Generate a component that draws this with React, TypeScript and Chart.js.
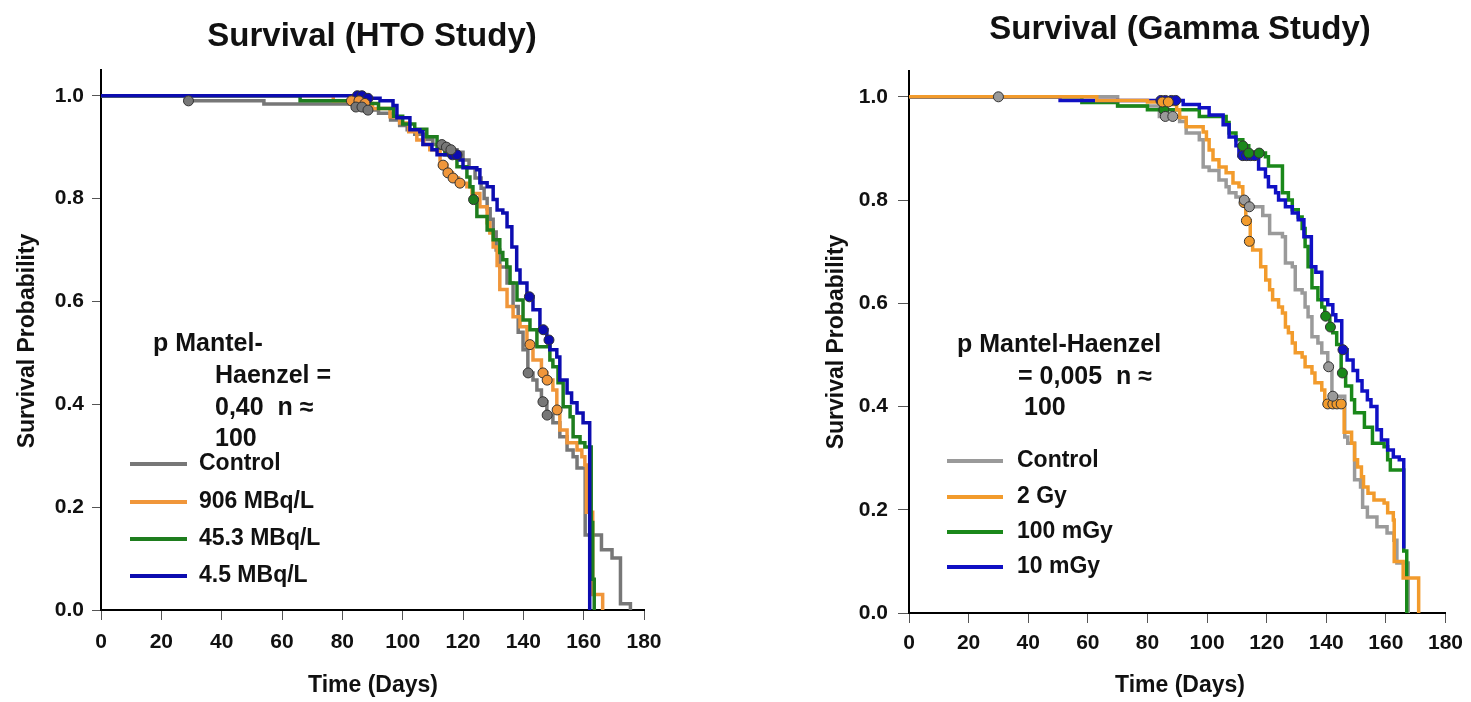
import React, { useEffect, useRef } from "react";
import { Chart, registerables } from "chart.js";
Chart.register(...registerables);

// ---------------- axis ticks ----------------
const xTickValues = [0, 20, 40, 60, 80, 100, 120, 140, 160, 180];
const yTickValues = [0, 0.2, 0.4, 0.6, 0.8, 1.0];
const yTickLabels = ["0.0", "0.2", "0.4", "0.6", "0.8", "1.0"];

// ---------------- HTO study (left) ----------------
const htoLabels = ["Control", "906 MBq/L", "45.3 MBq/L", "4.5 MBq/L"];

const htoControlT = [0, 28, 54, 84, 88, 92, 96, 99, 101.5, 104, 107, 110, 114, 115.5, 118, 120, 122, 124, 126, 127, 128, 129, 130, 131, 132.2, 134.6, 136.6, 138.3, 139.9, 141.5, 143.2, 144.5, 146, 147.8, 149.8, 152.1, 154.5, 156.5, 157.8, 160.5, 165.9, 169.4, 172.2, 175.5];
const htoControlS = [1, 0.99, 0.984, 0.978, 0.972, 0.966, 0.953, 0.942, 0.934, 0.925, 0.915, 0.905, 0.9, 0.895, 0.89, 0.875, 0.86, 0.84, 0.82, 0.8, 0.78, 0.76, 0.735, 0.7, 0.667, 0.636, 0.59, 0.54, 0.506, 0.461, 0.447, 0.428, 0.405, 0.379, 0.364, 0.337, 0.311, 0.298, 0.276, 0.146, 0.117, 0.101, 0.012, 0];
const htoControlCensT = [29, 84.5, 86.5, 88.5, 113, 114.5, 116, 141.6, 146.5, 147.9];
const htoControlCensS = [0.99, 0.978, 0.978, 0.972, 0.905, 0.9, 0.895, 0.461, 0.405, 0.379];

const htoHighT = [0, 77, 86, 90, 95.8, 99, 102, 104.7, 107, 109, 112.4, 114.7, 116.5, 118.5, 121.3, 123, 125.6, 128, 128.9, 130, 131.3, 132.2, 134.6, 136.6, 138.9, 141.2, 143.2, 146, 147.8, 149.8, 151.1, 152.1, 154.5, 157.8, 159.4, 160.4, 160.9, 163, 166.3];
const htoHighS = [1, 0.99, 0.985, 0.975, 0.959, 0.947, 0.93, 0.914, 0.905, 0.895, 0.865, 0.85, 0.84, 0.83, 0.823, 0.81, 0.784, 0.753, 0.733, 0.706, 0.67, 0.623, 0.59, 0.57, 0.551, 0.516, 0.486, 0.461, 0.447, 0.428, 0.389, 0.35, 0.325, 0.311, 0.298, 0.282, 0.19, 0.03, 0];
const htoHighCensT = [83, 85.5, 87.5, 113.4, 115, 116.7, 119, 142.2, 146.5, 147.9, 151.2];
const htoHighCensS = [0.99, 0.99, 0.985, 0.865, 0.85, 0.84, 0.83, 0.516, 0.461, 0.447, 0.389];

const htoMidT = [0, 66, 86, 92, 97, 100, 104, 108, 111.4, 114, 118, 121.3, 122.3, 123.3, 124.6, 128, 130, 132.2, 133.2, 134.5, 135.6, 137.9, 139.9, 142.2, 144.5, 148.8, 149.8, 151.5, 153.2, 155.5, 156.5, 158.8, 160.4, 162.5, 163, 163.5];
const htoMidS = [1, 0.99, 0.985, 0.975, 0.96, 0.945, 0.935, 0.92, 0.899, 0.885, 0.862, 0.842, 0.823, 0.798, 0.765, 0.739, 0.72, 0.695, 0.681, 0.667, 0.636, 0.603, 0.564, 0.545, 0.512, 0.486, 0.473, 0.442, 0.395, 0.376, 0.337, 0.325, 0.317, 0.17, 0.06, 0];
const htoMidCensT = [87, 123.5];
const htoMidCensS = [0.985, 0.798];

const htoLowT = [0, 88, 92.5, 96.8, 98.1, 102.4, 105.7, 106.7, 109.7, 111.4, 119, 120, 124.6, 125.6, 128, 130, 131.3, 133.2, 134.6, 136.2, 137.8, 138.9, 141.2, 143.2, 145.5, 147.8, 148.8, 151.1, 152.1, 154.5, 156, 157.8, 159.8, 162];
const htoLowS = [1, 0.995, 0.99, 0.981, 0.957, 0.934, 0.93, 0.905, 0.895, 0.885, 0.875, 0.86, 0.856, 0.831, 0.823, 0.798, 0.778, 0.772, 0.745, 0.706, 0.661, 0.636, 0.609, 0.584, 0.545, 0.525, 0.506, 0.492, 0.447, 0.422, 0.403, 0.383, 0.364, 0];
const htoLowCensT = [85, 86.5, 88.5, 116.5, 118, 142, 146.6, 148.5];
const htoLowCensS = [1, 1, 0.995, 0.885, 0.885, 0.609, 0.545, 0.525];

// ---------------- Gamma study (right) ----------------
const gamLabels = ["Control", "2 Gy", "100 mGy", "10 mGy"];

const gamControlT = [0, 70, 84, 90.8, 93, 97.4, 98.7, 100.7, 104, 106.4, 107.4, 109.7, 112.5, 114, 118.7, 121, 125.3, 126.3, 128.6, 129.6, 131.9, 132.9, 133.9, 135.2, 137.2, 138.5, 140.5, 141.9, 146.2, 147.2, 149.5, 151.5, 152.2, 153.8, 157, 160.4, 162.7, 163.7, 167.5];
const gamControlS = [1, 0.982, 0.962, 0.952, 0.93, 0.917, 0.864, 0.857, 0.839, 0.826, 0.814, 0.806, 0.8, 0.787, 0.77, 0.735, 0.729, 0.678, 0.671, 0.626, 0.62, 0.593, 0.574, 0.535, 0.523, 0.504, 0.477, 0.42, 0.341, 0.329, 0.258, 0.244, 0.205, 0.186, 0.167, 0.155, 0.141, 0.097, 0];
const gamControlCensT = [30, 86, 88.5, 112.5, 114.2, 140.8, 142.2];
const gamControlCensS = [1, 0.962, 0.962, 0.8, 0.787, 0.477, 0.42];

const gam2GyT = [0, 63, 80, 88, 89.8, 90.8, 93, 98.7, 99.8, 100.7, 102, 104, 106.4, 108.7, 110.7, 112, 113, 114.5, 115.3, 118, 119.7, 121, 122, 124, 125.3, 126.3, 127.3, 128.6, 129.6, 131.9, 132.9, 135.2, 136.2, 138.5, 139.5, 146, 148.5, 149.5, 150.5, 151.8, 152.5, 154, 156, 159.4, 160.6, 162.5, 162.8, 165.8, 171];
const gam2GyS = [1, 0.993, 0.99, 0.985, 0.975, 0.96, 0.942, 0.932, 0.917, 0.897, 0.878, 0.864, 0.853, 0.833, 0.826, 0.795, 0.76, 0.72, 0.703, 0.671, 0.645, 0.626, 0.607, 0.593, 0.581, 0.554, 0.543, 0.523, 0.504, 0.496, 0.477, 0.465, 0.446, 0.432, 0.405, 0.35, 0.329, 0.297, 0.283, 0.264, 0.244, 0.232, 0.219, 0.213, 0.194, 0.18, 0.1, 0.068, 0];
const gam2GyCensT = [85, 87, 112.4, 113.2, 114.2, 140.5, 142.2, 143.6, 145];
const gam2GyCensS = [0.99, 0.99, 0.795, 0.76, 0.72, 0.405, 0.405, 0.405, 0.405];

const gam100T = [0, 58, 70, 80, 97.4, 106.4, 107.4, 109.7, 112, 114, 119.6, 120.6, 125.3, 127.3, 128.6, 130.6, 131.9, 132.9, 133.9, 135.2, 137.2, 138.5, 139.5, 141.2, 142.2, 143.5, 145, 146.5, 148.5, 149.5, 152.8, 155.5, 159.4, 160.6, 161.5, 166, 167];
const gam100S = [1, 0.989, 0.982, 0.975, 0.962, 0.95, 0.93, 0.917, 0.905, 0.891, 0.884, 0.866, 0.814, 0.8, 0.781, 0.767, 0.745, 0.71, 0.671, 0.63, 0.607, 0.593, 0.575, 0.554, 0.543, 0.52, 0.465, 0.44, 0.413, 0.388, 0.36, 0.329, 0.322, 0.297, 0.277, 0.12, 0];
const gam100CensT = [85.5, 112, 114, 117.5, 139.8, 141.4, 145.4];
const gam100CensS = [0.975, 0.905, 0.891, 0.891, 0.575, 0.554, 0.465];

const gam10T = [0, 50.7, 92, 97.4, 100.7, 105.4, 107.4, 109.7, 110.7, 117.3, 119.6, 120.6, 123, 124, 126.3, 128.6, 130.6, 132.5, 135, 136.5, 138.5, 140.5, 142.2, 143.2, 145.2, 147, 149, 150.5, 152, 153.8, 155, 157, 158.5, 160.6, 162.5, 164.5, 166];
const gam10S = [1, 0.993, 0.985, 0.979, 0.965, 0.946, 0.922, 0.905, 0.886, 0.86, 0.845, 0.826, 0.814, 0.8, 0.787, 0.775, 0.762, 0.729, 0.671, 0.66, 0.607, 0.597, 0.578, 0.566, 0.51, 0.49, 0.47, 0.45, 0.43, 0.413, 0.4, 0.355, 0.335, 0.316, 0.302, 0.297, 0.125];
const gam10CensT = [84.5, 86, 88, 89.5, 112, 113.3, 114.6, 116, 145.6];
const gam10CensS = [0.993, 0.993, 0.993, 0.993, 0.886, 0.886, 0.886, 0.886, 0.51];

// ---------------- styling / layout ----------------
const FONT = "'Liberation Sans', Arial, Helvetica, sans-serif";

type Series = {
  label: string; t: number[]; s: number[]; ct: number[]; cs: number[];
  color: string; order: number;
};

type Panel = {
  canvasLeft: number; canvasWidth: number;
  plotLeft: number; plotRight: number; plotTop: number; plotBottom: number;
  yTickLen: number; yTickPad: number; xTickPad: number;
  title: string; titleX: number; titleY: number;
  yTitleX: number; yTitleY: number; xTitleX: number; xTitleY: number;
  note: { text: string; x: number; y: number }[];
  legX1: number; legX2: number; legTextX: number; legY: number[];
  series: Series[];
};

const htoPanel: Panel = {
  canvasLeft: 0, canvasWidth: 736,
  plotLeft: 101, plotRight: 644, plotTop: 70, plotBottom: 610,
  yTickLen: 9, yTickPad: 8, xTickPad: 10,
  title: "Survival (HTO Study)", titleX: 372, titleY: 37,
  yTitleX: 28, yTitleY: 341, xTitleX: 373, xTitleY: 686,
  note: [
    { text: "p Mantel-", x: 153, y: 344 },
    { text: "Haenzel =", x: 215, y: 376 },
    { text: "0,40  n ≈", x: 215, y: 408 },
    { text: "100", x: 215, y: 439 },
  ],
  legX1: 130, legX2: 187, legTextX: 199, legY: [464, 502, 539, 576],
  series: [
    { label: htoLabels[0], t: htoControlT, s: htoControlS, ct: htoControlCensT, cs: htoControlCensS, color: "#777777", order: 4 },
    { label: htoLabels[1], t: htoHighT, s: htoHighS, ct: htoHighCensT, cs: htoHighCensS, color: "#f0963a", order: 3 },
    { label: htoLabels[2], t: htoMidT, s: htoMidS, ct: htoMidCensT, cs: htoMidCensS, color: "#1e7d1e", order: 2 },
    { label: htoLabels[3], t: htoLowT, s: htoLowS, ct: htoLowCensT, cs: htoLowCensS, color: "#0c0cb0", order: 1 },
  ],
};

const gamPanel: Panel = {
  canvasLeft: 736, canvasWidth: 735,
  plotLeft: 909, plotRight: 1453, plotTop: 71, plotBottom: 613,
  yTickLen: 11, yTickPad: 10, xTickPad: 8,
  title: "Survival (Gamma Study)", titleX: 1180, titleY: 30,
  yTitleX: 837, yTitleY: 342, xTitleX: 1180, xTitleY: 686,
  note: [
    { text: "p Mantel-Haenzel", x: 957, y: 345 },
    { text: "= 0,005  n ≈", x: 1018, y: 377 },
    { text: "100", x: 1024, y: 408 },
  ],
  legX1: 947, legX2: 1003, legTextX: 1017, legY: [461, 497, 532, 567],
  series: [
    { label: gamLabels[0], t: gamControlT, s: gamControlS, ct: gamControlCensT, cs: gamControlCensS, color: "#9a9a9a", order: 4 },
    { label: gamLabels[1], t: gam2GyT, s: gam2GyS, ct: gam2GyCensT, cs: gam2GyCensS, color: "#f29b2c", order: 1 },
    { label: gamLabels[2], t: gam100T, s: gam100S, ct: gam100CensT, cs: gam100CensS, color: "#1a881a", order: 3 },
    { label: gamLabels[3], t: gam10T, s: gam10S, ct: gam10CensT, cs: gam10CensS, color: "#1010c4", order: 2 },
  ],
};

const pts = (t: number[], s: number[]) => t.map((x, i) => ({ x, y: s[i] }));

function buildChart(canvas: HTMLCanvasElement, p: Panel): Chart {
  const ox = p.canvasLeft;
  const height = 702;
  const datasets: any[] = [];
  p.series.forEach((se) => {
    datasets.push({
      type: "line", label: se.label, data: pts(se.t, se.s),
      borderColor: se.color, borderWidth: 3.5, pointRadius: 0, stepped: true,
      fill: false, order: se.order, borderJoinStyle: "miter",
    });
  });
  p.series.forEach((se) => {
    datasets.push({
      type: "line", label: se.label + " censored", data: pts(se.ct, se.cs),
      showLine: false, pointRadius: 5, pointBackgroundColor: se.color,
      pointBorderColor: "#333", pointBorderWidth: 1, borderColor: se.color, order: 0,
    });
  });

  const textPlugin = {
    id: "panelText",
    afterDraw(chart: any) {
      const ctx = chart.ctx as CanvasRenderingContext2D;
      ctx.save();
      ctx.fillStyle = "#111";
      ctx.textBaseline = "middle";
      // title
      ctx.textAlign = "center";
      ctx.font = `bold 33px ${FONT}`;
      ctx.fillText(p.title, p.titleX - ox, p.titleY);
      // x title
      ctx.font = `bold 23px ${FONT}`;
      ctx.fillText("Time (Days)", p.xTitleX - ox, p.xTitleY);
      // y title
      ctx.save();
      ctx.translate(p.yTitleX - ox, p.yTitleY);
      ctx.rotate(-Math.PI / 2);
      ctx.fillText("Survival Probability", 0, 0);
      ctx.restore();
      // note
      ctx.textAlign = "left";
      ctx.font = `bold 25px ${FONT}`;
      p.note.forEach((n) => ctx.fillText(n.text, n.x - ox, n.y));
      // legend
      ctx.font = `bold 23px ${FONT}`;
      p.series.forEach((se, i) => {
        const y = p.legY[i];
        ctx.strokeStyle = se.color;
        ctx.lineWidth = 4;
        ctx.beginPath();
        ctx.moveTo(p.legX1 - ox, y);
        ctx.lineTo(p.legX2 - ox, y);
        ctx.stroke();
        ctx.fillStyle = "#111";
        ctx.fillText(se.label, p.legTextX - ox, y);
      });
      ctx.restore();
    },
  };

  return new Chart(canvas, {
    type: "line",
    data: { datasets },
    plugins: [textPlugin],
    options: {
      responsive: false,
      maintainAspectRatio: false,
      devicePixelRatio: 1,
      animation: false,
      events: [],
      layout: {
        autoPadding: false,
        padding: { left: 0, top: p.plotTop, right: p.canvasWidth - (p.plotRight - ox), bottom: 0 },
      },
      plugins: { legend: { display: false }, title: { display: false }, tooltip: { enabled: false } },
      scales: {
        x: {
          type: "linear", position: "bottom", min: 0, max: 180,
          afterBuildTicks: (s: any) => { s.ticks = xTickValues.map((v) => ({ value: v })); },
          afterFit: (s: any) => { s.height = height - p.plotBottom; },
          ticks: {
            color: "#111", padding: p.xTickPad, maxRotation: 0, autoSkip: false,
            font: { family: FONT, size: 21, weight: "bold" },
            callback: (v: any) => String(v),
          },
          grid: { drawOnChartArea: false, drawTicks: true, tickLength: 10, color: "#555", lineWidth: 1 },
          border: { display: true, color: "#000", width: 2 },
        },
        y: {
          type: "linear", position: "left", min: 0, max: 1.05,
          afterBuildTicks: (s: any) => { s.ticks = yTickValues.map((v) => ({ value: v })); },
          afterFit: (s: any) => { s.width = p.plotLeft - ox; },
          ticks: {
            color: "#111", padding: p.yTickPad, autoSkip: false,
            font: { family: FONT, size: 21, weight: "bold" },
            callback: (_v: any, i: number) => yTickLabels[i],
          },
          grid: { drawOnChartArea: false, drawTicks: true, tickLength: p.yTickLen, color: "#555", lineWidth: 1 },
          border: { display: true, color: "#000", width: 2 },
        },
      },
    } as any,
  });
}

export default function App() {
  const leftRef = useRef<HTMLCanvasElement>(null);
  const rightRef = useRef<HTMLCanvasElement>(null);
  useEffect(() => {
    const a = buildChart(leftRef.current!, htoPanel);
    const b = buildChart(rightRef.current!, gamPanel);
    return () => { a.destroy(); b.destroy(); };
  }, []);
  return (
    <div style={{ position: "absolute", left: 0, top: 0, width: 1471, height: 702, background: "#fff" }}>
      <canvas ref={leftRef} width={736} height={702} style={{ position: "absolute", left: 0, top: 0 }} />
      <canvas ref={rightRef} width={735} height={702} style={{ position: "absolute", left: 736, top: 0 }} />
    </div>
  );
}
